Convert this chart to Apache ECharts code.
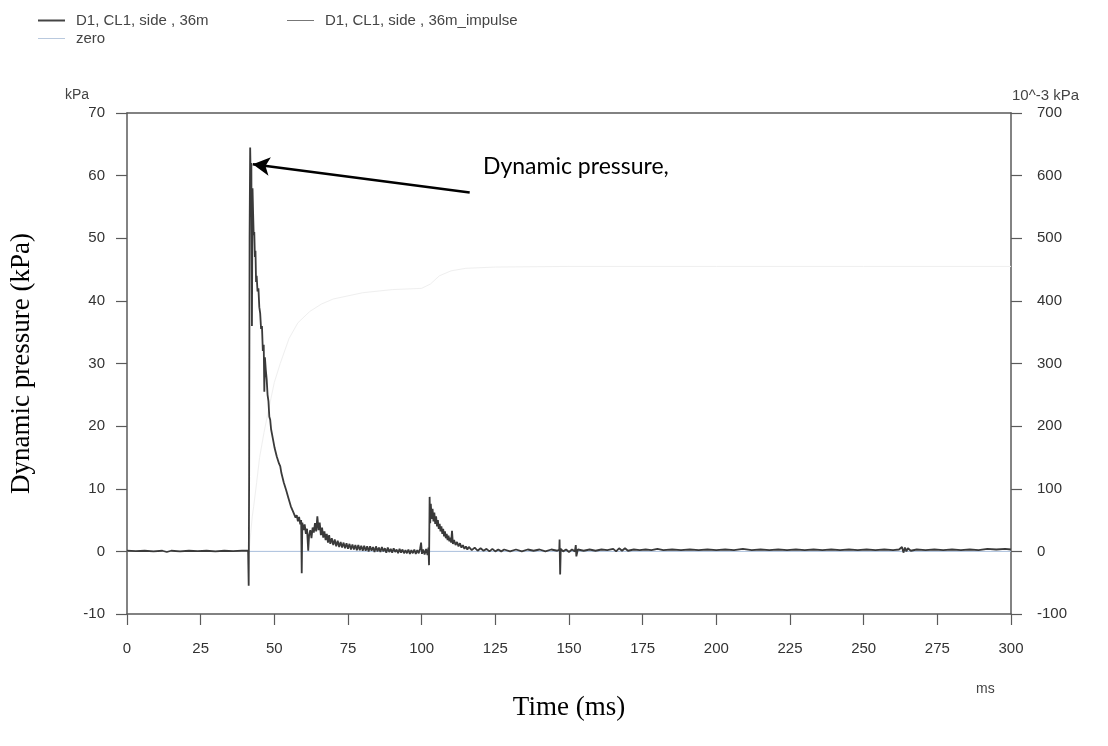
<!DOCTYPE html>
<html>
<head>
<meta charset="utf-8">
<script src="https://cdn.jsdelivr.net/npm/echarts@6/dist/echarts.min.js"></script>
<style>
  html, body { margin: 0; padding: 0; background: #ffffff; }
  #chart { width: 1108px; height: 746px; }
</style>
</head>
<body>
<div id="chart"></div>
<script>
// ---- data ----
const seriesNames = ['D1, CL1, side , 36m', 'D1, CL1, side , 36m_impulse', 'zero'];

const xTicks = [0, 25, 50, 75, 100, 125, 150, 175, 200, 225, 250, 275, 300];
const leftTicks = [-10, 0, 10, 20, 30, 40, 50, 60, 70];
const rightTicks = [-100, 0, 100, 200, 300, 400, 500, 600, 700];

// pressure [time ms, kPa]
const pressure = [
  [0,0.1],[3,0.05],[6,0.1],[9,0.0],[12,0.1],[13.5,-0.1],[15,0.1],[18,0.0],[21,0.1],[24,0.05],[27,0.1],[30,0.0],[33,0.1],[36,0.05],[39,0.1],[41.1,0.1],
  [41.3,-5.5],[41.45,12],[41.6,50],[41.8,64.5],[42.0,59],[42.2,62],[42.4,36],[42.6,58],[42.8,54],[43.0,50.5],[43.2,51],[43.4,47],[43.6,48],[43.8,43],[44.0,44],
  [44.3,41.5],[44.6,42],[44.9,39],[45.2,38],[45.5,35.5],[45.8,36],[46.1,32],[46.4,33],[46.6,25.5],[46.8,31],[47.1,29],[47.4,27.5],[47.7,25],[48,24],[48.3,21.5],
  [48.6,21],[48.9,19.5],[49.2,19.8],[49.5,18],[49.8,17.8],[50.1,16.5],[50.4,16.8],[50.8,15.2],[51.2,15.5],[51.6,14],[52,13.6],[52.4,12.5],[52.8,12.2],[53.2,11],
  [53.6,10.8],[54,9.8],[54.4,9.6],[54.8,8.5],[55.2,8.4],[55.6,7.2],[56,7.4],[56.4,6.3],[56.8,6.5],[57.2,5.4],[57.6,5.8],[58,4.8],[58.4,5.5],[58.8,4.3],[59.1,5],
  [59.3,-3.5],[59.5,4.6],[59.9,3.4],[60.3,4.3],[60.7,2.8],[61.1,3.6],[61.5,0.1],[61.8,2.6],[62.2,3.4],[62.6,2.1],[63,3.8],[63.4,3.0],[63.8,4.5],[64.2,3.2],
  [64.6,5.6],[65,3.4],[65.4,4.6],[65.8,2.6],[66.2,3.8],[66.6,2.2],[67,3.2],[67.4,1.8],[67.8,2.8],[68.2,1.4],[68.6,2.6],[69,1.2],[69.5,2.1],[70,1.0],[70.5,1.9],
  [71,0.8],[71.5,1.7],[72,0.7],[72.5,1.5],[73,0.6],[73.5,1.4],[74,0.5],[74.5,1.3],[75,0.4],[75.5,1.2],[76,0.3],[76.5,1.1],[77,0.3],[77.5,1.0],[78,0.2],[78.5,1.0],
  [79,0.2],[79.5,0.9],[80,0.1],[80.5,0.9],[81,0.1],[81.5,0.8],[82,0.0],[82.5,0.8],[83,0.1],[83.5,0.7],[84,-0.1],[84.5,0.8],[85,0.0],[85.5,0.6],[86,-0.1],[86.5,0.7],
  [87,0.0],[87.5,0.5],[88,-0.2],[88.5,0.6],[89,-0.1],[89.5,0.4],[90,-0.2],[90.5,0.5],[91,-0.1],[91.5,0.3],[92,-0.3],[92.5,0.4],[93,-0.2],[93.5,0.3],[94,-0.3],
  [94.5,0.2],[95,-0.3],[95.5,0.3],[96,-0.4],[96.5,0.2],[97,-0.3],[97.5,0.3],[98,-0.4],[98.5,0.2],[99,-0.3],[99.5,0.5],[99.8,1.4],[100.1,-0.4],[100.5,0.3],
  [101,-0.5],[101.5,0.4],[102,-0.6],[102.3,0.6],[102.5,-2.2],[102.7,8.7],[102.9,4.5],[103.1,7.6],[103.4,5.2],[103.7,6.8],[104,4.8],[104.3,6.2],[104.6,4.4],
  [104.9,5.6],[105.2,4],[105.5,5],[105.8,3.6],[106.1,4.4],[106.4,3.2],[106.7,4],[107,2.8],[107.3,3.6],[107.6,2.4],[107.9,3.2],[108.2,2.1],[108.5,2.8],[108.8,1.8],
  [109.1,2.5],[109.4,1.6],[109.7,2.2],[110,1.4],[110.3,3.3],[110.6,1.2],[111,1.8],[111.5,1.0],[112,1.5],[112.5,0.8],[113,1.3],[113.5,0.6],[114,1.0],[114.5,0.4],
  [115,0.8],[115.5,0.3],[116,0.7],[117,0.2],[118,0.6],[119,0.1],[120,0.5],[121,0.1],[122,0.4],[123,0.0],[124,0.4],[125,0.0],[126,0.3],[127,0.0],[128,0.3],
  [130,0.0],[132,0.3],[134,0.0],[136,0.3],[138,0.1],[140,0.3],[142,0.0],[144,0.3],[146,0.1],[146.7,0.3],[146.8,1.9],[147.0,-3.7],[147.2,0.4],[148,0.0],[149,0.3],
  [150,-0.1],[151,0.3],[152,0.0],[152.3,1.0],[152.5,-0.8],[153,0.3],[155,0.1],[157,0.3],[159,0.1],[161,0.3],[163,0.2],[165,0.4],[166,0.0],[167,0.5],[168,0.1],
  [169,0.5],[170,0.1],[172,0.3],[174,0.2],[176,0.3],[178,0.2],[180,0.4],[182,0.2],[185,0.3],[188,0.2],[191,0.3],[194,0.2],[197,0.3],[200,0.2],[203,0.3],[206,0.2],
  [209,0.4],[212,0.2],[215,0.3],[218,0.2],[221,0.3],[224,0.2],[227,0.3],[230,0.2],[233,0.3],[236,0.2],[239,0.3],[242,0.2],[245,0.3],[248,0.2],[251,0.3],[254,0.2],
  [257,0.3],[260,0.2],[262,0.3],[263,0.7],[263.5,-0.2],[264,0.6],[264.5,0.0],[265,0.5],[266,0.1],[268,0.3],[271,0.2],[274,0.3],[277,0.2],[280,0.3],[283,0.2],
  [286,0.3],[289,0.2],[292,0.4],[295,0.3],[298,0.4],[300,0.3]
];

// impulse [time ms, 10^-3 kPa s] (mostly faded in the scan)
const impulse = [
  [0,0],[41.3,0],[41.6,10],[42,30],[42.5,55],[43,72],[44,110],[45,150],[46.5,190],[48,225],[50,270],[52,300],[55,340],[58,365],[62,383],
  [66,395],[70,403],[80,413],[90,418],[100,420],[103,427],[106,440],[110,448],[115,452],[125,454],[150,455],[200,455],[250,455],[300,455]
];

// zero reference line
const zero = [[0,0],[300,0]];

// annotation arrow (data coordinates)
const arrowFrom = [116.3, 57.3];
const arrowTo = [42.7, 61.8];
const annotationText = 'Dynamic pressure,';

// ---- chart ----
const tickFont = "'Liberation Sans', Arial, sans-serif";
const axisColor = '#5a5a5a';
const mainColor = '#3a3a3a';
const impulseColor = '#efefef';
const zeroColor = '#a9bfdc';
const chart = echarts.init(document.getElementById('chart'), null, { renderer: 'canvas' });

const legendBase = {
  orient: 'horizontal',
  itemWidth: 27,
  selectedMode: false,
  textStyle: { fontFamily: tickFont, fontSize: 15, color: '#444', padding: [0, 0, 0, 6] }
};

chart.setOption({
  backgroundColor: '#ffffff',
  animation: false,
  legend: [
    Object.assign({}, legendBase, { left: 33, top: 8, itemHeight: 2,
      data: [{ name: seriesNames[0], icon: 'rect', itemStyle: { color: '#444' } }] }),
    Object.assign({}, legendBase, { left: 282, top: 8, itemHeight: 1,
      data: [{ name: seriesNames[1], icon: 'rect', itemStyle: { color: '#777' } }] }),
    Object.assign({}, legendBase, { left: 33, top: 26, itemHeight: 1,
      data: [{ name: seriesNames[2], icon: 'rect', itemStyle: { color: '#b9c9de' } }] })
  ],
  grid: { left: 125, right: 97, top: 113, bottom: 132, containLabel: false },
  xAxis: [
    {
      type: 'value', min: xTicks[0], max: xTicks[xTicks.length - 1], interval: 25,
      name: 'Time (ms)', nameLocation: 'middle', nameGap: 80,
      nameTextStyle: { fontFamily: "'Liberation Serif', 'Times New Roman', serif", fontSize: 27, color: '#000' },
      axisLine: { show: true, onZero: false, lineStyle: { color: axisColor, width: 1.5 } },
      axisTick: { show: true, inside: false, length: 11, lineStyle: { color: axisColor, width: 1.2 } },
      axisLabel: { margin: 27, fontFamily: tickFont, fontSize: 15, color: '#333' },
      splitLine: { show: false }
    },
    {
      type: 'value', position: 'top', min: 0, max: 300,
      axisLine: { show: true, onZero: false, lineStyle: { color: axisColor, width: 1.5 } },
      axisTick: { show: false }, axisLabel: { show: false }, splitLine: { show: false }
    }
  ],
  yAxis: [
    {
      type: 'value', min: leftTicks[0], max: leftTicks[leftTicks.length - 1], interval: 10, position: 'left',
      name: 'Dynamic pressure (kPa)', nameLocation: 'middle', nameGap: 92, nameRotate: 90,
      nameTextStyle: { fontFamily: "'Liberation Serif', 'Times New Roman', serif", fontSize: 27, color: '#000' },
      axisLine: { show: true, onZero: false, lineStyle: { color: axisColor, width: 1.5 } },
      axisTick: { show: true, inside: false, length: 11, lineStyle: { color: axisColor, width: 1.2 } },
      axisLabel: { margin: 22, fontFamily: tickFont, fontSize: 15, color: '#333' },
      splitLine: { show: false }
    },
    {
      type: 'value', min: rightTicks[0], max: rightTicks[rightTicks.length - 1], interval: 100, position: 'right',
      axisLine: { show: true, onZero: false, lineStyle: { color: axisColor, width: 1.5 } },
      axisTick: { show: true, inside: false, length: 11, lineStyle: { color: axisColor, width: 1.2 } },
      axisLabel: { margin: 26, fontFamily: tickFont, fontSize: 15, color: '#333' },
      splitLine: { show: false }
    }
  ],
  series: [
    {
      name: seriesNames[2], type: 'line', data: zero, symbol: 'none', silent: true,
      itemStyle: { color: zeroColor }, lineStyle: { color: zeroColor, width: 1 }, z: 1
    },
    {
      name: seriesNames[1], type: 'line', data: impulse, yAxisIndex: 1, symbol: 'none', silent: true,
      itemStyle: { color: impulseColor }, lineStyle: { color: impulseColor, width: 1 }, z: 2
    },
    {
      name: seriesNames[0], type: 'line', data: pressure, symbol: 'none', silent: true,
      itemStyle: { color: mainColor }, lineStyle: { color: mainColor, width: 1.8 }, z: 3,
      markLine: {
        silent: true, animation: false,
        symbol: ['none', 'arrow'], symbolSize: [14, 17],
        label: { show: false },
        lineStyle: { color: '#000', width: 2.5, type: 'solid' },
        data: [[{ coord: arrowFrom }, { coord: arrowTo }]]
      }
    }
  ],
  graphic: [
    { type: 'text', left: 483, top: 155, style: { text: annotationText, font: "23px Lato, 'Liberation Sans', sans-serif", fill: '#000' } },
    { type: 'text', left: 65, top: 88, style: { text: 'kPa', font: "14px 'Liberation Sans', Arial, sans-serif", fill: '#444' } },
    { type: 'text', left: 1012, top: 88, style: { text: '10^-3 kPa', font: "15px 'Liberation Sans', Arial, sans-serif", fill: '#444' } },
    { type: 'text', left: 976, top: 682, style: { text: 'ms', font: "14px 'Liberation Sans', Arial, sans-serif", fill: '#444' } }
  ]
});
</script>
</body>
</html>
